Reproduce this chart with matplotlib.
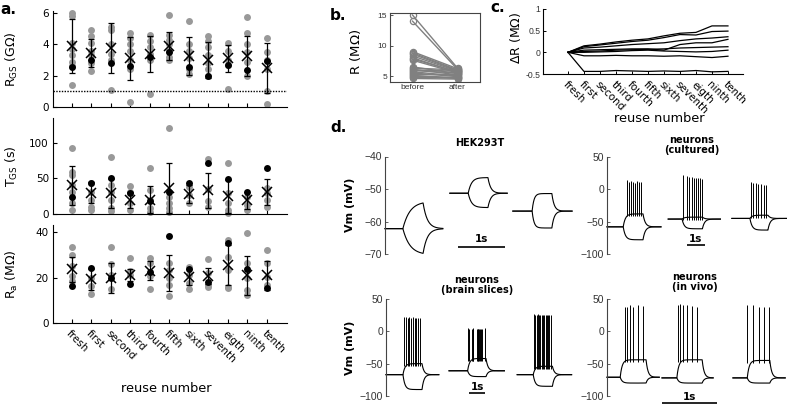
import numpy as np
import matplotlib
matplotlib.use('Agg')
import matplotlib.pyplot as plt

# ---------------- data ----------------
cats = ['fresh', 'first', 'second', 'third', 'fourth', 'fifth', 'sixth',
        'seventh', 'eigth', 'ninth', 'tenth']

rgs_gray = [[6.0, 5.8, 4.1, 3.7, 3.3, 2.9, 2.6, 1.4],
            [4.9, 4.5, 4.1, 3.6, 3.3, 2.8, 2.3],
            [5.1, 4.9, 4.0, 3.4, 3.0, 1.1],
            [4.7, 4.4, 4.0, 3.6, 3.0, 2.4, 0.35],
            [4.6, 4.2, 3.8, 3.4, 3.0, 0.8],
            [5.9, 4.6, 4.3, 4.0, 3.6, 3.2, 3.0],
            [5.5, 4.0, 3.6, 3.1, 2.4, 2.1],
            [4.5, 4.2, 3.8, 3.3, 2.8, 2.4, 2.0],
            [4.1, 3.6, 3.0, 2.7, 1.15],
            [5.75, 4.7, 4.0, 3.5, 2.9, 2.0],
            [4.4, 3.5, 3.0, 2.4, 1.0, 0.2]]
rgs_black = [2.55, 3.0, 2.8, 2.6, 3.2, 3.5, 2.55, 1.95, 2.65, 2.35, 2.95]
rgs_mean = [3.9, 3.45, 3.75, 3.1, 3.4, 3.9, 3.25, 3.0, 3.1, 3.25, 2.5]
rgs_sd = [1.7, 0.9, 1.6, 1.35, 1.15, 0.9, 1.2, 1.15, 0.85, 1.3, 1.6]

tgs_gray = [[93, 59, 54, 40, 31, 15, 5],
            [43, 31, 20, 10, 6],
            [80, 40, 31, 20, 8, 4],
            [39, 31, 15, 6],
            [64, 33, 20, 8, 3],
            [121, 24, 15, 8, 3],
            [38, 27, 15],
            [77, 35, 18, 10],
            [71, 29, 15, 6, 2],
            [24, 12, 5],
            [36, 29, 20, 10]]
tgs_black = [24, 44, 51, 30, 18, 31, 44, 71, 49, 31, 64]
tgs_mean = [40, 30, 29, 20, 20, 36, 28, 33, 25, 19, 31]
tgs_sd = [28, 15, 20, 11, 19, 35, 13, 25, 23, 12, 18]

ra_gray = [[33.6, 30.0, 25, 20.5, 18.3],
           [20, 16.3, 12.7],
           [33.6, 26, 21, 14.8],
           [28.5, 23, 21],
           [28.5, 26.3, 20.5, 14.8],
           [26.3, 23.5, 19.9, 16.9, 11.8],
           [24.8, 21.2, 17.4, 14.8],
           [28, 21.8, 16.7, 15.9],
           [36.6, 29.2, 23.4, 16, 15.2],
           [39.6, 26.3, 19.6, 14.5, 12.3],
           [32.2, 26.3, 20.4, 16.7]]
ra_black = [16.2, 24.0, 20.0, 17.1, 22.6, 38.4, 23.6, 18.2, 35.1, 23.6, 15.2]
ra_mean = [23.6, 19.2, 19.8, 21.2, 23.0, 22.1, 20.2, 20.7, 25.5, 21.0, 21.0]
ra_sd = [5.5, 4.5, 6.5, 2.6, 4.2, 8.0, 3.7, 3.5, 9.0, 8.5, 6.4]

# panel b
b_labels = ['before', 'after']
b_before = [15.0, 14.0, 9.0, 8.8, 8.6, 8.3, 8.0, 7.8, 7.6, 6.5, 6.3, 6.1,
            6.0, 5.9, 5.7, 5.5, 5.3, 5.1, 5.0, 4.8, 4.6]
b_after = [6.3, 6.1, 6.2, 6.0, 5.9, 5.8, 5.6, 5.7, 5.5, 5.4, 6.0, 5.2,
           5.8, 5.5, 5.0, 4.9, 5.3, 4.7, 4.6, 4.8, 4.5]

# panel c
c_lines = [[0, 0.15, 0.19, 0.24, 0.28, 0.31, 0.38, 0.44, 0.46, 0.61, 0.61],
           [0, 0.13, 0.17, 0.21, 0.25, 0.28, 0.34, 0.41, 0.40, 0.48, 0.49],
           [0, 0.10, 0.12, 0.15, 0.18, 0.20, 0.22, 0.27, 0.31, 0.33, 0.36],
           [0, 0.05, 0.06, 0.07, 0.08, 0.08, 0.05, 0.18, 0.22, 0.22, 0.30],
           [0, 0.02, 0.03, 0.05, 0.06, 0.07, 0.08, 0.10, 0.11, 0.12, 0.13],
           [0, 0.00, 0.01, 0.02, 0.04, 0.05, 0.03, 0.02, 0.01, 0.02, 0.05],
           [0, -0.08, -0.08, -0.07, -0.08, -0.08, -0.09, -0.08, -0.10, -0.12, -0.09],
           [0, -0.44, -0.44, -0.42, -0.43, -0.44, -0.43, -0.44, -0.42, -0.45, -0.44]]

# panel d traces (time in s, voltage in mV)
hek_start = [0.0, 1.38, 2.72]
hek_on = [0.38, 1.77, 3.13]
hek_off = [0.81, 2.19, 3.55]
hek_end = [1.23, 2.60, 3.98]
hek_base = [-62.2, -51.3, -56.8]
hek_up = [-54.3, -46.5, -51.4]
hek_down = [-69.8, -55.7, -62.0]
hek_tau_on = [0.15, 0.07, 0.04]
hek_tau_off = [0.09, 0.06, 0.05]

cul_start = [0.0, 3.4, 6.94]
cul_on = [0.9, 4.17, 7.94]
cul_off = [2.0, 5.3, 8.94]
cul_end = [3.0, 6.3, 10.0]
cul_base = [-58, -46, -45]
cul_up = [-38, -43, -40]
cul_down = [-78, -61, -63]
cul_spk_t = [[1.12, 1.22, 1.32, 1.44, 1.55, 1.66, 1.78, 1.90],
             [4.20, 4.42, 4.56, 4.70, 4.83, 4.96, 5.08, 5.19, 5.28],
             [7.98, 8.12, 8.27, 8.41, 8.55, 8.70, 8.85]]
cul_spk_v = [[14, 12, 13, 12, 10, 13, 12, 12],
             [22, 20, 19, 19, 18, 18, 17, 17, 16],
             [12, 10, 10, 8, 8, 7, 6]]

bs_start = [0.0, 3.94, 8.2]
bs_on = [1.06, 5.1, 9.2]
bs_off = [2.25, 6.25, 10.4]
bs_end = [3.3, 7.4, 11.6]
bs_base = [-67, -61, -67]
bs_up = [-50, -42, -54]
bs_down = [-90, -70, -85]
bs_spk_t = [[1.12, 1.24, 1.35, 1.46, 1.57, 1.68, 1.79, 1.90, 2.01, 2.12],
            [5.15, 5.20, 5.36, 5.41, 5.46, 5.67, 5.72, 5.78, 5.84, 5.90, 5.96, 6.02, 6.19],
            [9.25, 9.33, 9.41, 9.49, 9.57, 9.65, 9.73, 9.81, 9.89, 9.97, 10.05, 10.13, 10.21, 10.30]]
bs_spk_v = [[22, 22, 21, 22, 21, 22, 21, 21, 21, 21],
            [5, 4, 4, 5, 4, 3, 4, 4, 3, 4, 3, 4, 5],
            [27, 26, 26, 27, 26, 26, 26, 25, 26, 26, 25, 26, 25, 25]]

iv_start = [0.0, 1.0, 2.29]
iv_on = [0.24, 1.27, 2.55]
iv_off = [0.71, 1.73, 2.96]
iv_end = [0.95, 1.93, 3.24]
iv_base = [-71, -72, -72]
iv_up = [-44, -44, -45]
iv_down = [-80, -80, -80]
iv_spk_t = [[0.327, 0.370, 0.418, 0.479, 0.564, 0.650],
            [1.285, 1.327, 1.387, 1.449, 1.540, 1.631],
            [2.551, 2.660, 2.764, 2.855, 2.940]]
iv_spk_v = [[37.6, 38, 40, 37, 41, 39],
            [41, 42, 41, 40, 39, 38],
            [41, 41, 38, 38, 37]]

# ---------------- figure ----------------
W, H = 787, 404
fig = plt.figure(figsize=(W / 100, H / 100), dpi=100)
plt.rcParams['font.family'] = ['DejaVu Sans']


def add_ax(x0, y0, x1, y1):
    return fig.add_axes([x0 / W, 1 - y1 / H, (x1 - x0) / W, (y1 - y0) / H])


def ftext(px, py, s, **kw):
    fig.text(px / W, 1 - py / H, s, **kw)


GRAY = '#999999'
TXT = '#333333'

# ---------- panel a ----------
a_specs = [((53, 11.4, 287, 107), (0, 6.1), [0, 2, 4, 6], rgs_gray, rgs_black, rgs_mean, rgs_sd,
            r'R$_{\mathrm{GS}}$ (G$\Omega$)'),
           ((53, 118, 287, 214), (0, 134.6), [0, 50, 100], tgs_gray, tgs_black, tgs_mean, tgs_sd,
            r'T$_{\mathrm{GS}}$ (s)'),
           ((53, 225, 287, 323), (0, 43.1), [0, 20, 40], ra_gray, ra_black, ra_mean, ra_sd,
            r'R$_{\mathrm{a}}$ (M$\Omega$)')]
for k, (box, ylim, yt, gray, black, mean, sd, ylab) in enumerate(a_specs):
    ax = add_ax(*box)
    for i in range(len(cats)):
        ax.plot([i] * len(gray[i]), gray[i], 'o', color=GRAY, ms=5, mec='none', zorder=2,
                clip_on=False)
        ax.errorbar(i, mean[i], yerr=sd[i], fmt='none', ecolor='k', elinewidth=0.9,
                    capsize=2.5, capthick=0.9, zorder=3)
        ax.plot(i, black[i], 'o', color='k', ms=5, mec='none', zorder=4, clip_on=False)
        ax.plot(i, mean[i], 'x', color='k', ms=6.5, mew=1.1, zorder=5)
    if k == 0:
        ax.axhline(1.0, ls=(0, (1, 1)), color='k', lw=1.0, zorder=6)
    ax.set_xlim(-0.97, 11.03)
    ax.set_ylim(*ylim)
    ax.set_yticks(yt)
    ax.set_xticks(range(len(cats)))
    if k == 2:
        ax.set_xticklabels(cats, rotation=-45, ha='left', va='top', rotation_mode='anchor',
                           fontsize=7.5)
    else:
        ax.set_xticklabels([])
    for s in ['top', 'right']:
        ax.spines[s].set_visible(False)
    ax.tick_params(direction='in', length=3, width=0.8, labelsize=7.5, pad=3)
    ax.tick_params(axis='x', pad=4)
    ax.set_ylabel(ylab, fontsize=9)
    ax.yaxis.set_label_coords(-0.141, 0.5)

ftext(166, 388, 'reuse number', fontsize=9.3, ha='center', va='center')
ftext(0, 9, 'a.', fontsize=11, fontweight='bold', ha='left', va='center')

# ---------- panel b ----------
axb = add_ax(390, 12.7, 480, 81.7)
for v0, v1 in zip(b_before, b_after):
    axb.plot([1, 2], [v0, v1], '-o', color='#808080', lw=1.0, ms=4.5, mfc='none', mew=0.9)
axb.set_xlim(0.5, 2.5)
axb.set_ylim(4.07, 15.38)
axb.set_xticks([1, 2])
axb.set_xticklabels(b_labels, fontfamily='Liberation Sans')
axb.set_yticks([5, 10, 15])
axb.tick_params(direction='in', length=2, width=0.6, labelsize=6, colors=TXT, pad=2)
for lab in axb.get_yticklabels():
    lab.set_fontfamily('Liberation Sans')
for s in axb.spines.values():
    s.set_linewidth(0.8)
    s.set_color('#444444')
axb.set_ylabel(r'R (M$\Omega$)', fontsize=9.5)
axb.yaxis.set_label_coords((363 - 390) / 90, 0.43)
ftext(330, 15, 'b.', fontsize=11, fontweight='bold', ha='left', va='center')

# ---------- panel c ----------
axc = add_ax(543, 9, 743, 74)
for ln in c_lines:
    axc.plot(range(len(cats)), ln, color='k', lw=0.9, clip_on=False)
axc.set_xlim(-1.56, 10.94)
axc.set_ylim(-0.5, 1)
axc.set_yticks([-0.5, 0, 0.5, 1])
axc.set_yticklabels(['-0.5', '0', '0.5', '1'], fontfamily='Liberation Sans')
axc.set_xticks(range(len(cats)))
axc.set_xticklabels(cats, rotation=-45, ha='left', va='top', rotation_mode='anchor', fontsize=7.5)
for s in ['top', 'right']:
    axc.spines[s].set_visible(False)
axc.tick_params(direction='in', length=2.5, width=0.7)
axc.tick_params(axis='y', labelsize=6.2, labelcolor=TXT, pad=2)
axc.tick_params(axis='x', pad=4)
axc.set_ylabel(r'$\Delta$R (M$\Omega$)', fontsize=9)
axc.yaxis.set_label_coords((523 - 543) / 200, 0.55)
ftext(659, 118, 'reuse number', fontsize=9.3, ha='center', va='center')
ftext(490, 8, 'c.', fontsize=11, fontweight='bold', ha='left', va='center')

# ---------- panel d ----------
ftext(330, 128, 'd.', fontsize=11, fontweight='bold', ha='left', va='center')


def branch(t, ton, toff, base, level, tau_on, tau_off):
    v = np.full_like(t, float(base))
    dur = toff - ton
    norm = 1 - np.exp(-dur / tau_on)
    m = (t >= ton) & (t < toff)
    v[m] = base + (level - base) * (1 - np.exp(-(t[m] - ton) / tau_on)) / norm
    m2 = t >= toff
    v[m2] = base + (level - base) * np.exp(-(t[m2] - toff) / tau_off)
    return v


def draw_trace(ax, t0, ton, toff, tend, base, up, down, tau_on, tau_off, spk_t=None, spk_v=None):
    t = np.unique(np.concatenate([np.linspace(t0, tend, 600), [ton, toff]]))
    ax.plot(t, branch(t, ton, toff, base, up, tau_on, tau_off), color='k', lw=0.8, clip_on=False)
    ax.plot(t, branch(t, ton, toff, base, down, tau_on, tau_off), color='k', lw=0.8, clip_on=False)
    if spk_t is not None:
        ax.vlines(spk_t, [up - 4] * len(spk_t), spk_v, color='k', lw=0.7, clip_on=False)


def style_d(ax, ylim, yt):
    ax.set_ylim(*ylim)
    ax.set_yticks(yt)
    ax.set_xticks([])
    for s in ['top', 'right', 'bottom']:
        ax.spines[s].set_visible(False)
    ax.spines['left'].set_color('#444444')
    ax.spines['left'].set_linewidth(0.8)
    ax.tick_params(axis='y', direction='in', length=2, width=0.6, labelsize=7.5,
                   labelcolor=TXT, color='#444444', pad=2)
    for lab in ax.get_yticklabels():
        lab.set_fontfamily('Liberation Sans')


def scalebar(ax, t0, t1, y, ty):
    ax.plot([t0, t1], [y, y], color='k', lw=1.2, clip_on=False, solid_capstyle='butt')
    ax.text((t0 + t1) / 2, ty, '1s', ha='center', va='center', fontsize=7.5,
            fontweight='bold', clip_on=False)


# HEK293T
axd1 = add_ax(385, 156.5, 575, 254)
axd1.set_xlim(0, 190 / 47)
for i in range(3):
    draw_trace(axd1, hek_start[i], hek_on[i], hek_off[i], hek_end[i], hek_base[i],
               hek_up[i], hek_down[i], hek_tau_on[i], hek_tau_off[i])
style_d(axd1, (-70, -40), [-70, -60, -50, -40])
scalebar(axd1, 1.55, 2.55, -67.8, -65.4)
ftext(480, 143, 'HEK293T', fontsize=7, fontweight='bold', ha='center', va='center')

# cultured
axd2 = add_ax(607, 157, 787, 254)
axd2.set_xlim(0, 10)
for i in range(3):
    draw_trace(axd2, cul_start[i], cul_on[i], cul_off[i], cul_end[i], cul_base[i],
               cul_up[i], cul_down[i], 0.12, 0.12, cul_spk_t[i], cul_spk_v[i])
style_d(axd2, (-100, 50), [-100, -50, 0, 50])
scalebar(axd2, 4.44, 5.44, -86, -76.7)
ftext(692, 145, 'neurons\n(cultured)', fontsize=7, fontweight='bold', ha='center', va='center',
      linespacing=1.1)

# brain slices
axd3 = add_ax(386, 299, 575, 396)
axd3.set_xlim(0, 189 / 16)
for i in range(3):
    draw_trace(axd3, bs_start[i], bs_on[i], bs_off[i], bs_end[i], bs_base[i],
               bs_up[i], bs_down[i], 0.12, 0.12, bs_spk_t[i], bs_spk_v[i])
style_d(axd3, (-100, 50), [-100, -50, 0, 50])
scalebar(axd3, 5.19, 6.19, -95, -86)
ftext(477, 285, 'neurons\n(brain slices)', fontsize=7, fontweight='bold', ha='center',
      va='center', linespacing=1.1)
axd3.set_ylabel('Vm (mV)', fontsize=8, fontweight='bold')
axd3.yaxis.set_label_coords((355 - 386) / 189, 0.5)
axd1.set_ylabel('Vm (mV)', fontsize=8, fontweight='bold')
axd1.yaxis.set_label_coords((355 - 385) / 190, 0.5)

# in vivo
axd4 = add_ax(607, 299, 787, 396)
axd4.set_xlim(0, 180 / 55)
for i in range(3):
    draw_trace(axd4, iv_start[i], iv_on[i], iv_off[i], iv_end[i], iv_base[i],
               iv_up[i], iv_down[i], 0.035, 0.035, iv_spk_t[i], iv_spk_v[i])
style_d(axd4, (-100, 50), [-100, -50, 0, 50])
scalebar(axd4, 1.0, 2.0, -111, -101.5)
ftext(695, 282, 'neurons\n(in vivo)', fontsize=7, fontweight='bold', ha='center',
      va='center', linespacing=1.1)

fig.savefig('out.png', dpi=100)
